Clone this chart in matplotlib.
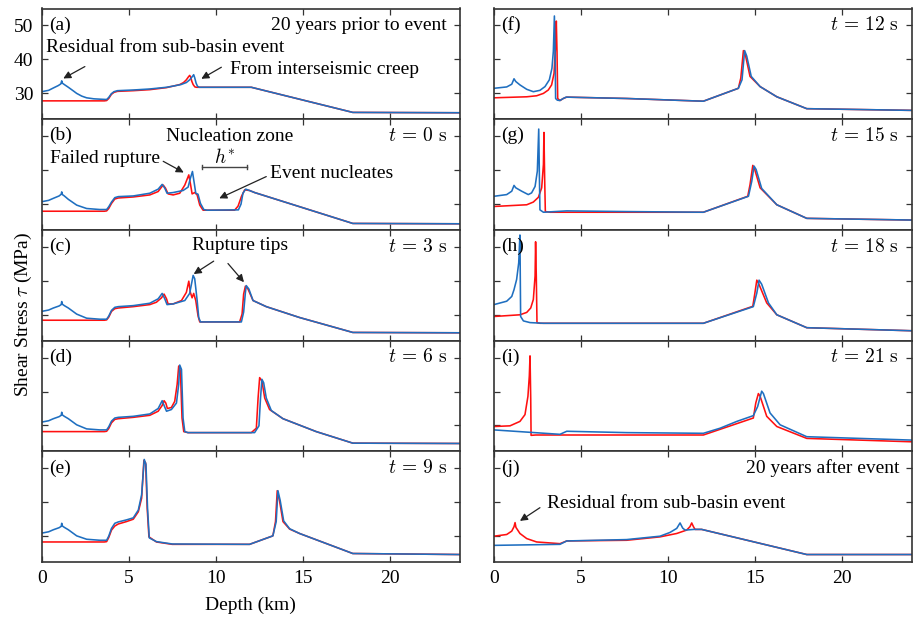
import numpy as np
import matplotlib.pyplot as plt

plt.rcParams.update({"font.family": "Liberation Serif", "mathtext.fontset": "cm",
                     "font.size": 13})

# depth (km), shear stress (MPa)
a_red = [(0, 27.8), (3.6, 27.8), (3.73, 27.9), (3.85, 28.5), (4.0, 29.7), (4.15, 30.3), (4.35, 30.6),
         (5.26, 30.8), (6.21, 31.1), (7.17, 31.7), (7.6, 32.2), (7.93, 32.6), (8.15, 33.2), (8.31, 34.0),
         (8.42, 34.8), (8.5, 35.3), (8.56, 34.8), (8.62, 33.6), (8.7, 32.6), (8.8, 31.9), (8.9, 31.8),
         (12.04, 31.8), (17.87, 24.4), (24, 24.3)]
a_blue = [(0, 30.5), (0.4, 30.9), (0.67, 31.6), (0.95, 32.3), (1.1, 32.8), (1.15, 33.7), (1.19, 33.0),
          (1.3, 32.6), (1.53, 31.8), (1.8, 30.8), (2.01, 30.0), (2.3, 29.2), (2.58, 28.7), (3.0, 28.4),
          (3.34, 28.3), (3.73, 28.2), (3.85, 28.8), (4.0, 29.9), (4.15, 30.5), (4.35, 30.8), (5.26, 31.0),
          (6.21, 31.3), (7.17, 31.8), (7.6, 32.2), (8.0, 32.6), (8.31, 33.2), (8.5, 34.0), (8.66, 35.0),
          (8.73, 35.5), (8.79, 34.6), (8.87, 33.0), (8.95, 32.1), (9.05, 31.8), (12.04, 31.8),
          (17.87, 24.4), (24, 24.3)]

b_red = [(0, 27.9), (3.6, 27.9), (3.73, 28.0), (3.85, 28.7), (4.01, 30.2), (4.2, 31.5), (4.4, 31.8),
         (5.26, 32.1), (6.21, 32.7), (6.69, 33.7), (6.88, 35.0), (6.98, 35.6), (7.11, 34.7), (7.26, 33.0),
         (7.55, 32.7), (7.93, 33.2), (8.22, 35.6), (8.45, 38.6), (8.54, 36.1), (8.64, 33.0), (8.79, 33.4),
         (8.93, 32.7), (9.08, 29.7), (9.27, 28.2), (11.08, 28.2), (11.28, 29.4), (11.47, 32.2),
         (11.66, 34.2), (11.94, 34.0), (12.23, 33.4), (17.87, 24.3), (24, 24.2)]
b_blue = [(0, 30.7), (0.4, 31.1), (0.67, 31.7), (1.0, 32.4), (1.12, 32.9), (1.15, 33.6), (1.19, 32.8),
          (1.3, 32.4), (1.53, 31.4), (2.01, 29.7), (2.58, 28.7), (3.34, 28.4), (3.73, 28.4), (3.85, 29.2),
          (4.01, 30.6), (4.2, 31.9), (4.4, 32.2), (5.26, 32.4), (6.21, 33.2), (6.69, 34.4), (6.92, 35.8),
          (7.07, 34.7), (7.2, 33.2), (7.55, 33.4), (8.12, 34.0), (8.41, 35.0), (8.54, 37.6), (8.66, 39.6),
          (8.75, 36.6), (8.85, 33.2), (8.98, 32.9), (9.12, 30.2), (9.31, 28.4), (9.5, 28.2), (11.3, 28.3),
          (11.45, 30.0), (11.56, 33.2), (11.72, 34.4), (11.94, 34.0), (12.23, 33.4), (17.87, 24.3), (24, 24.2)]

c_red = [(0, 28.4), (3.6, 28.4), (3.73, 28.5), (3.85, 29.3), (4.01, 31.0), (4.2, 31.8), (4.4, 32.0),
         (5.26, 32.4), (6.21, 33.0), (6.59, 33.7), (6.88, 35.0), (7.03, 36.1), (7.17, 34.7), (7.26, 33.2),
         (7.55, 33.2), (8.03, 34.2), (8.31, 36.6), (8.45, 39.9), (8.54, 36.6), (8.64, 35.0), (8.73, 36.3),
         (8.85, 34.2), (8.98, 29.7), (9.08, 27.9), (11.37, 27.9), (11.51, 30.2), (11.6, 36.1), (11.7, 38.4),
         (11.85, 37.6), (12.14, 34.2), (12.9, 32.4), (14.81, 29.2), (17.87, 24.8), (24, 24.7)]
c_blue = [(0, 31.0), (0.4, 31.4), (0.67, 32.0), (1.0, 32.6), (1.12, 33.0), (1.15, 33.9), (1.19, 33.1),
          (1.3, 32.7), (1.53, 32.0), (2.01, 30.2), (2.58, 29.0), (3.34, 28.7), (3.73, 28.7), (3.85, 29.6),
          (4.01, 31.3), (4.2, 32.2), (4.4, 32.4), (5.26, 32.7), (6.21, 33.4), (6.69, 34.7), (6.92, 36.3),
          (7.07, 34.7), (7.2, 33.0), (7.55, 33.2), (8.22, 34.2), (8.5, 36.3), (8.7, 41.6), (8.79, 40.6),
          (8.93, 34.2), (9.02, 29.2), (9.12, 27.9), (11.47, 27.9), (11.6, 30.8), (11.7, 36.5), (11.75, 38.6),
          (11.9, 37.6), (12.14, 34.2), (12.9, 32.4), (14.81, 29.2), (17.87, 24.8), (24, 24.7)]

d_red = [(0, 28.2), (3.6, 28.2), (3.73, 28.3), (3.85, 29.1), (4.01, 30.8), (4.2, 31.8), (4.4, 32.0),
         (5.26, 32.4), (6.21, 33.0), (6.69, 34.2), (6.92, 35.9), (7.03, 37.3), (7.13, 36.6), (7.22, 35.0),
         (7.45, 35.3), (7.64, 37.1), (7.78, 42.1), (7.87, 47.5), (7.97, 46.0), (8.06, 32.2), (8.16, 28.2),
         (8.4, 27.9), (12.04, 27.9), (12.33, 29.2), (12.43, 38.1), (12.52, 44.1), (12.65, 43.1),
         (12.81, 38.1), (13.09, 34.7), (13.86, 32.0), (15.77, 28.2), (17.87, 24.8), (24, 24.7)]
d_blue = [(0, 31.0), (0.4, 31.4), (0.67, 32.0), (1.0, 32.6), (1.12, 33.0), (1.15, 33.9), (1.19, 33.1),
          (1.3, 32.7), (1.53, 32.0), (2.01, 30.2), (2.58, 29.0), (3.34, 28.7), (3.73, 28.7), (3.85, 29.6),
          (4.01, 31.3), (4.2, 32.2), (4.4, 32.4), (5.26, 32.7), (6.21, 33.4), (6.69, 35.0), (6.92, 37.3),
          (7.03, 35.9), (7.17, 34.2), (7.45, 34.7), (7.74, 36.6), (7.87, 42.1), (7.93, 47.8), (8.03, 46.5),
          (8.12, 32.2), (8.22, 28.2), (8.4, 27.9), (12.23, 27.9), (12.48, 29.9), (12.57, 38.1),
          (12.65, 43.6), (12.75, 42.6), (12.9, 38.1), (13.19, 34.4), (13.86, 32.0), (15.77, 28.2),
          (17.87, 24.8), (24, 24.7)]

e_red = [(0, 28.3), (3.6, 28.3), (3.73, 28.4), (3.85, 29.6), (4.01, 31.8), (4.2, 33.0), (4.4, 33.6),
         (4.87, 34.3), (5.26, 35.0), (5.55, 37.2), (5.74, 41.2), (5.87, 52.3), (5.97, 51.6), (6.06, 38.2),
         (6.16, 29.8), (6.59, 28.3), (7.5, 27.6), (11.94, 27.6), (13.28, 30.1), (13.43, 34.3),
         (13.53, 43.4), (13.67, 40.2), (13.86, 34.3), (14.24, 32.1), (14.81, 30.8), (17.87, 24.9), (24, 24.6)]
e_blue = [(0, 30.9), (0.4, 31.3), (0.67, 31.9), (1.0, 32.5), (1.12, 32.9), (1.15, 33.8), (1.19, 33.0),
          (1.3, 32.6), (1.53, 31.9), (2.01, 30.1), (2.58, 29.1), (3.34, 28.8), (3.73, 28.8), (3.85, 30.0),
          (4.01, 32.3), (4.2, 33.8), (4.4, 34.2), (4.87, 34.8), (5.26, 35.4), (5.55, 37.7), (5.74, 42.2),
          (5.89, 52.6), (5.99, 51.1), (6.08, 38.2), (6.18, 29.5), (6.59, 28.4), (7.5, 27.7), (11.94, 27.6),
          (13.28, 30.1), (13.47, 34.3), (13.57, 43.4), (13.7, 40.5), (13.9, 34.5), (14.24, 32.2),
          (14.81, 30.8), (17.87, 24.9), (24, 24.6)]

f_red = [(0, 28.7), (1.88, 29.0), (2.45, 29.3), (2.84, 30.0), (3.12, 31.0), (3.31, 32.5), (3.45, 35.9),
         (3.54, 44.4), (3.58, 51.3), (3.62, 42.4), (3.66, 28.5), (3.79, 27.9), (3.98, 28.5), (4.18, 28.9),
         (7.62, 28.5), (12.03, 27.7), (14.04, 31.5), (14.18, 34.5), (14.33, 42.6), (14.44, 41.4),
         (14.71, 35.0), (15.29, 32.0), (16.25, 29.0), (17.97, 25.5), (24, 25.0)]
f_blue = [(0, 31.5), (0.73, 31.9), (1.02, 32.7), (1.15, 34.3), (1.25, 33.5), (1.49, 32.5), (1.88, 31.2),
          (2.26, 30.5), (2.64, 30.9), (2.93, 32.0), (3.18, 34.0), (3.33, 37.4), (3.41, 42.4), (3.47, 52.8),
          (3.51, 42.4), (3.54, 28.5), (3.64, 28.0), (3.79, 27.9), (3.98, 28.5), (4.14, 28.9), (7.62, 28.5),
          (12.03, 27.7), (14.04, 31.5), (14.25, 34.0), (14.4, 42.6), (14.52, 41.0), (14.78, 35.0),
          (15.29, 32.0), (16.25, 29.0), (17.97, 25.5), (24, 25.0)]

g_red = [(0, 29.3), (1.88, 29.8), (2.26, 30.6), (2.55, 32.0), (2.74, 34.8), (2.84, 41.7), (2.87, 51.1),
         (2.91, 37.7), (2.95, 27.8), (3.22, 27.6), (12.03, 27.6), (14.58, 32.3), (14.71, 35.7),
         (14.87, 41.4), (14.98, 40.2), (15.29, 34.8), (16.25, 29.8), (17.97, 25.8), (24, 25.3)]
g_blue = [(0, 32.3), (0.73, 32.8), (1.02, 33.8), (1.15, 35.5), (1.25, 34.8), (1.59, 33.8), (1.97, 32.8),
          (2.16, 33.3), (2.36, 35.2), (2.49, 39.7), (2.57, 52.1), (2.61, 37.7), (2.64, 28.3), (2.84, 27.6),
          (4.18, 28.0), (7.62, 27.8), (12.03, 27.6), (14.62, 32.3), (14.81, 36.7), (14.94, 41.2),
          (15.06, 40.2), (15.38, 34.6), (16.25, 29.8), (17.97, 25.8), (24, 25.3)]

h_red = [(0, 29.5), (1.49, 30.0), (1.88, 30.7), (2.11, 32.0), (2.26, 34.5), (2.36, 41.4), (2.39, 51.5),
         (2.43, 41.4), (2.47, 27.7), (2.64, 27.5), (12.03, 27.5), (14.87, 32.5), (14.99, 36.4),
         (15.1, 40.2), (15.19, 39.4), (15.67, 33.5), (16.25, 30.0), (17.97, 26.2), (24, 25.3)]
h_blue = [(0, 33.0), (0.73, 34.0), (1.02, 35.4), (1.15, 37.4), (1.3, 40.4), (1.42, 45.3), (1.49, 53.5),
          (1.51, 41.4), (1.53, 29.5), (1.69, 28.2), (2.07, 27.7), (2.84, 27.5), (12.03, 27.5),
          (14.9, 32.4), (15.1, 36.4), (15.23, 40.2), (15.38, 39.0), (15.77, 33.5), (16.25, 30.0),
          (17.97, 26.2), (24, 25.3)]

i_red = [(0, 29.7), (0.92, 29.9), (1.49, 31.2), (1.78, 33.2), (1.95, 38.6), (2.03, 44.6), (2.07, 50.5),
         (2.11, 38.0), (2.13, 27.1), (2.4, 27.2), (12.03, 27.2), (14.9, 32.2), (15.04, 36.6),
         (15.19, 39.4), (15.29, 38.6), (15.67, 32.7), (16.25, 29.7), (17.97, 26.2), (24, 25.2)]
i_blue = [(0, 28.7), (3.79, 27.4), (4.18, 28.3), (7.62, 27.9), (12.03, 27.7), (12.99, 29.2),
          (13.95, 31.2), (14.9, 32.9), (15.15, 35.6), (15.38, 40.1), (15.48, 39.4), (15.86, 33.7),
          (16.44, 30.2), (17.97, 26.7), (24, 25.7)]

j_red = [(0, 30.0), (0.73, 30.5), (1.02, 31.5), (1.15, 32.8), (1.21, 34.0), (1.26, 32.6), (1.49, 30.8),
         (1.88, 29.3), (2.45, 28.3), (3.79, 27.8), (4.18, 28.6), (7.62, 28.8), (9.54, 29.8), (10.5, 30.8),
         (11.07, 31.8), (11.26, 32.8), (11.36, 33.9), (11.46, 32.8), (11.55, 32.0), (11.93, 32.0),
         (17.97, 24.6), (24, 24.6)]
j_blue = [(0, 27.3), (3.79, 27.6), (4.18, 28.6), (7.62, 29.0), (9.54, 30.0), (10.11, 31.1), (10.5, 32.3),
          (10.69, 33.9), (10.84, 32.4), (10.98, 31.8), (11.5, 32.0), (11.93, 32.0), (17.97, 24.6), (24, 24.6)]

letters = ["a", "b", "c", "d", "e", "f", "g", "h", "i", "j"]
corner_text = ["20 years prior to event", r"$t\, =\, 0\ \mathrm{s}$", r"$t\, =\, 3\ \mathrm{s}$",
               r"$t\, =\, 6\ \mathrm{s}$", r"$t\, =\, 9\ \mathrm{s}$", r"$t\, =\, 12\ \mathrm{s}$",
               r"$t\, =\, 15\ \mathrm{s}$", r"$t\, =\, 18\ \mathrm{s}$", r"$t\, =\, 21\ \mathrm{s}$",
               "20 years after event"]
reds = [a_red, b_red, c_red, d_red, e_red, f_red, g_red, h_red, i_red, j_red]
blues = [a_blue, b_blue, c_blue, d_blue, e_blue, f_blue, g_blue, h_blue, i_blue, j_blue]

RED = "#ff1010"
BLUE = "#1f6fc0"
SPINE = "#333333"

fig = plt.figure(figsize=(9.15, 6.18), dpi=100)
W, H = 915, 618
top_px, bot_px = 8.5, 562
row_h = (bot_px - top_px) / 5
col_left = [41.7, 494]
col_w = [417.8, 417.7]

axes = []
for k in range(10):
    col, row = divmod(k, 5)
    y_bottom = top_px + (row + 1) * row_h
    ax = fig.add_axes([col_left[col] / W, 1 - y_bottom / H, col_w[col] / W, row_h / H])
    axes.append(ax)

    r = np.array(reds[k]).T
    b = np.array(blues[k]).T
    ax.plot(r[0], r[1], color=RED, lw=1.15)
    ax.plot(b[0], b[1], color=BLUE, lw=1.15)

    ax.set_xlim(0, 24)
    ax.set_ylim(22.4, 55)
    ax.set_xticks([0, 5, 10, 15, 20])
    ax.set_yticks([30, 40, 50])
    ax.tick_params(direction="in", top=True, right=True, length=4, width=0.9, color=SPINE,
                   labelsize=14, pad=6)
    for s in ax.spines.values():
        s.set_color(SPINE)
        s.set_linewidth(1.2)
    if row != 4:
        ax.set_xticklabels([])
    if k != 0:
        ax.set_yticklabels([])

    ax.text(0.018, 0.85, "(%s)" % letters[k], transform=ax.transAxes, ha="left", va="center",
            fontsize=14)
    ax.text(0.97, 0.85, corner_text[k], transform=ax.transAxes, ha="right", va="center",
            fontsize=14)

arrow = dict(arrowstyle="-|>", color="#222222", lw=0.9, mutation_scale=11, shrinkA=0, shrinkB=0)
tsize = 14

# (a)
ax = axes[0]
ax.text(0.25, 43.4, "Residual from sub-basin event", ha="left", va="center", fontsize=tsize)
ax.annotate("", xy=(1.24, 34.4), xytext=(2.48, 37.9), arrowprops=arrow)
ax.text(10.8, 36.9, "From interseismic creep", ha="left", va="center", fontsize=tsize)
ax.annotate("", xy=(9.17, 34.3), xytext=(10.32, 37.7), arrowprops=arrow)

# (b)
ax = axes[1]
ax.text(10.8, 50.0, "Nucleation zone", ha="center", va="center", fontsize=tsize)
ax.text(0.48, 43.3, "Failed rupture", ha="left", va="center", fontsize=tsize)
ax.annotate("", xy=(8.16, 39.3), xytext=(6.98, 42.6), arrowprops=arrow)
ax.text(10.51, 43.8, r"$h^{*}$", ha="center", va="center", fontsize=tsize)
ax.plot([9.21, 11.81], [40.9, 40.9], color="#444444", lw=1.0)
ax.plot([9.21, 9.21], [40.2, 41.6], color="#444444", lw=1.0)
ax.plot([11.81, 11.81], [40.2, 41.6], color="#444444", lw=1.0)
ax.text(13.09, 39.1, "Event nucleates", ha="left", va="center", fontsize=tsize)
ax.annotate("", xy=(10.2, 31.7), xytext=(12.9, 38.1), arrowprops=arrow)

# (c)
ax = axes[2]
ax.text(11.37, 50.5, "Rupture tips", ha="center", va="center", fontsize=tsize)
ax.annotate("", xy=(8.73, 42.0), xytext=(9.88, 45.8), arrowprops=arrow)
ax.annotate("", xy=(11.62, 39.6), xytext=(10.7, 45.1), arrowprops=arrow)

# (j)
ax = axes[9]
ax.text(3.07, 39.7, "Residual from sub-basin event", ha="left", va="center", fontsize=tsize)
ax.annotate("", xy=(1.49, 34.5), xytext=(2.64, 38.4), arrowprops=arrow)

fig.text(23 / W, 1 - 314 / H, r"Shear Stress $\tau$ (MPa)", rotation=90, ha="center", va="center",
         fontsize=14)
fig.text(250 / W, 1 - 605 / H, "Depth (km)", ha="center", va="center", fontsize=14)

fig.savefig("out.png", dpi=100)
